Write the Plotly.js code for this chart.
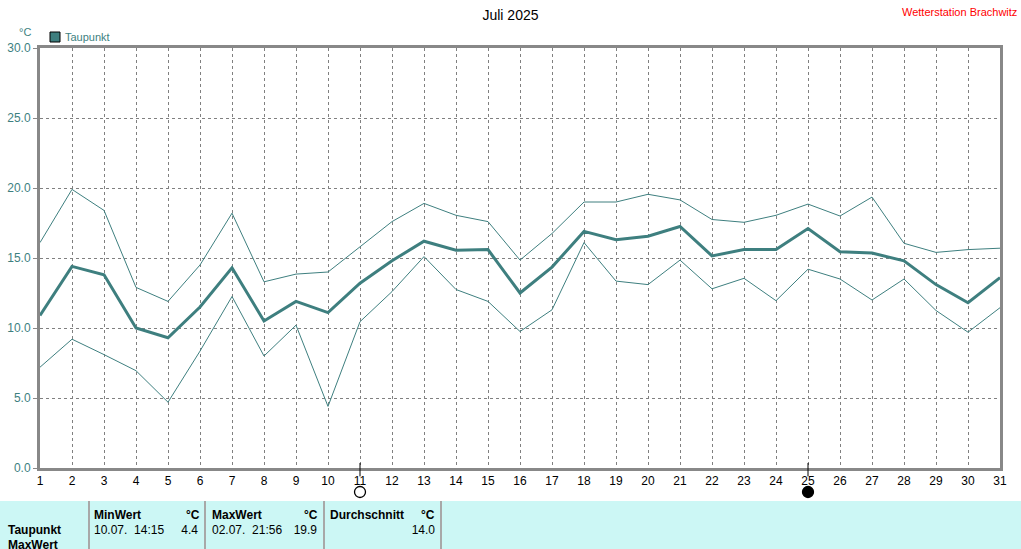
<!DOCTYPE html>
<html>
<head>
<meta charset="utf-8">
<script src="https://cdn.plot.ly/plotly-3.0.1.min.js"></script>
<style>
html,body{margin:0;padding:0;background:#fff;}
#wrap{position:relative;width:1021px;height:549px;overflow:hidden;font-family:Arial,"Liberation Sans",sans-serif;}
#chart{position:absolute;left:0;top:0;width:1021px;height:549px;}
#tbl{position:absolute;left:0;top:501px;width:1021px;height:48px;background:#ccf7f5;font-size:12px;color:#000;}
.sep{position:absolute;top:0;width:2px;height:48px;background:#a8a8a8;}
.t{position:absolute;white-space:pre;line-height:14px;}
.b{font-weight:bold;}
</style>
</head>
<body>
<div id="wrap">
<div id="chart"></div>
<div id="tbl">
  <div class="sep" style="left:88px"></div>
  <div class="sep" style="left:204px"></div>
  <div class="sep" style="left:323px"></div>
  <div class="sep" style="left:440px"></div>
  <div class="t b" style="left:8px;top:22px">Taupunkt</div>
  <div class="t b" style="left:8px;top:37px">MaxWert</div>
  <div class="t b" style="left:94px;top:7px">MinWert</div>
  <div class="t b" style="left:186px;top:7px">°C</div>
  <div class="t" style="left:94px;top:22px">10.07.  14:15</div>
  <div class="t" style="left:150px;top:22px;width:48px;text-align:right">4.4</div>
  <div class="t b" style="left:212px;top:7px">MaxWert</div>
  <div class="t b" style="left:304px;top:7px">°C</div>
  <div class="t" style="left:212px;top:22px">02.07.  21:56</div>
  <div class="t" style="left:270px;top:22px;width:47px;text-align:right">19.9</div>
  <div class="t b" style="left:330px;top:7px">Durchschnitt</div>
  <div class="t b" style="left:421px;top:7px">°C</div>
  <div class="t" style="left:390px;top:22px;width:45px;text-align:right">14.0</div>
</div>
</div>
<script>
const days = [1,2,3,4,5,6,7,8,9,10,11,12,13,14,15,16,17,18,19,20,21,22,23,24,25,26,27,28,29,30,31];
const taupunktMean = [10.9,14.4,13.8,10.0,9.3,11.5,14.3,10.5,11.9,11.1,13.2,14.8,16.2,15.55,15.6,12.5,14.35,16.9,16.3,16.55,17.25,15.15,15.6,15.6,17.1,15.45,15.35,14.8,13.1,11.8,13.6];
const taupunktMax = [16.1,19.9,18.4,12.9,11.9,14.5,18.2,13.3,13.85,14.0,15.8,17.6,18.9,18.05,17.6,14.85,16.75,19.0,19.0,19.55,19.15,17.75,17.55,18.05,18.85,18.0,19.35,16.05,15.4,15.6,15.7];
const taupunktMin = [7.2,9.2,8.1,6.95,4.7,8.35,12.25,8.0,10.2,4.4,10.45,12.6,15.1,12.75,11.9,9.75,11.3,16.1,13.35,13.1,14.85,12.8,13.55,11.95,14.2,13.5,12.0,13.5,11.25,9.7,11.45];
const fullMoonDays = [11];
const newMoonDays = [25];
const yTicks = [0,5,10,15,20,25,30];
const yTickLabels = ["0.0","5.0","10.0","15.0","20.0","25.0","30.0"];

const teal = '#3e7f7f';
const traces = [
  {x: days, y: taupunktMax, type:'scatter', mode:'lines', line:{color:teal,width:1}, hoverinfo:'skip', showlegend:false},
  {x: days, y: taupunktMin, type:'scatter', mode:'lines', line:{color:teal,width:1}, hoverinfo:'skip', showlegend:false},
  {x: days, y: taupunktMean, type:'scatter', mode:'lines', name:'Taupunkt', line:{color:teal,width:3}, showlegend:false}
];

const shapes = [];
fullMoonDays.concat(newMoonDays).forEach(d=>{
  shapes.push({type:'line', xref:'x', yref:'paper', x0:d, x1:d, y0:0.012, y1:-0.02, line:{color:'#000',width:1}});
});
const moonY = (468-492)/420;
fullMoonDays.forEach(d=>{
  shapes.push({type:'circle', xref:'x', yref:'paper', xsizemode:'pixel', ysizemode:'pixel', xanchor:d, yanchor:moonY,
    x0:-5.5, x1:5.5, y0:-5.5, y1:5.5, fillcolor:'#fff', line:{color:'#000',width:1.3}});
});
newMoonDays.forEach(d=>{
  shapes.push({type:'circle', xref:'x', yref:'paper', xsizemode:'pixel', ysizemode:'pixel', xanchor:d, yanchor:moonY,
    x0:-5.5, x1:5.5, y0:-5.5, y1:5.5, fillcolor:'#000', line:{color:'#000',width:1.3}});
});
// legend square
shapes.push({type:'rect', xref:'paper', yref:'paper', x0:(50-40)/960, x1:(60-40)/960, y0:(468-42)/420, y1:(468-32)/420, fillcolor:teal, line:{color:'#000',width:1}});

const layout = {
  width:1021, height:549,
  margin:{l:40, r:21, t:48, b:81, pad:0},
  paper_bgcolor:'rgba(0,0,0,0)', plot_bgcolor:'#fff',
  font:{family:'Arial, "Liberation Sans", sans-serif', size:12, color:'#000'},
  title:{text:'Juli 2025', x:0.5, xanchor:'center', y:0.972, yanchor:'middle', font:{size:14, color:'#000'}},
  xaxis:{range:[1,31], tickmode:'array', tickvals:days, ticktext:days.map(String), showgrid:true,
    gridcolor:'#808080', griddash:'3px,3px', gridwidth:1, zeroline:false,
    showline:true, linecolor:'#888', linewidth:3, mirror:true, ticks:'', tickfont:{size:12,color:'#000'}, fixedrange:true},
  yaxis:{range:[0,30], tickmode:'array', tickvals:yTicks, ticktext:yTickLabels, showgrid:true,
    gridcolor:'#808080', griddash:'3px,3px', gridwidth:1, zeroline:false,
    showline:true, linecolor:'#888', linewidth:3, mirror:true, ticks:'outside', ticklen:4, tickcolor:'#888', tickwidth:1,
    tickfont:{size:12,color:teal}, fixedrange:true},
  shapes: shapes,
  annotations:[
    {text:'Wetterstation Brachwitz', xref:'paper', yref:'paper', x:(1019-40)/960, y:(468-12)/420, xanchor:'right', yanchor:'middle', showarrow:false, font:{size:11,color:'#ff0000'}},
    {text:'Taupunkt', xref:'paper', yref:'paper', x:(63-40)/960, y:(468-37)/420, xanchor:'left', yanchor:'middle', showarrow:false, font:{size:11,color:teal}},
    {text:'°C', xref:'paper', yref:'paper', x:(25-40)/960, y:(468-32)/420, xanchor:'center', yanchor:'middle', showarrow:false, font:{size:11,color:teal}}
  ]
};
Plotly.newPlot('chart', traces, layout, {displayModeBar:false, staticPlot:true});
</script>
</body>
</html>
